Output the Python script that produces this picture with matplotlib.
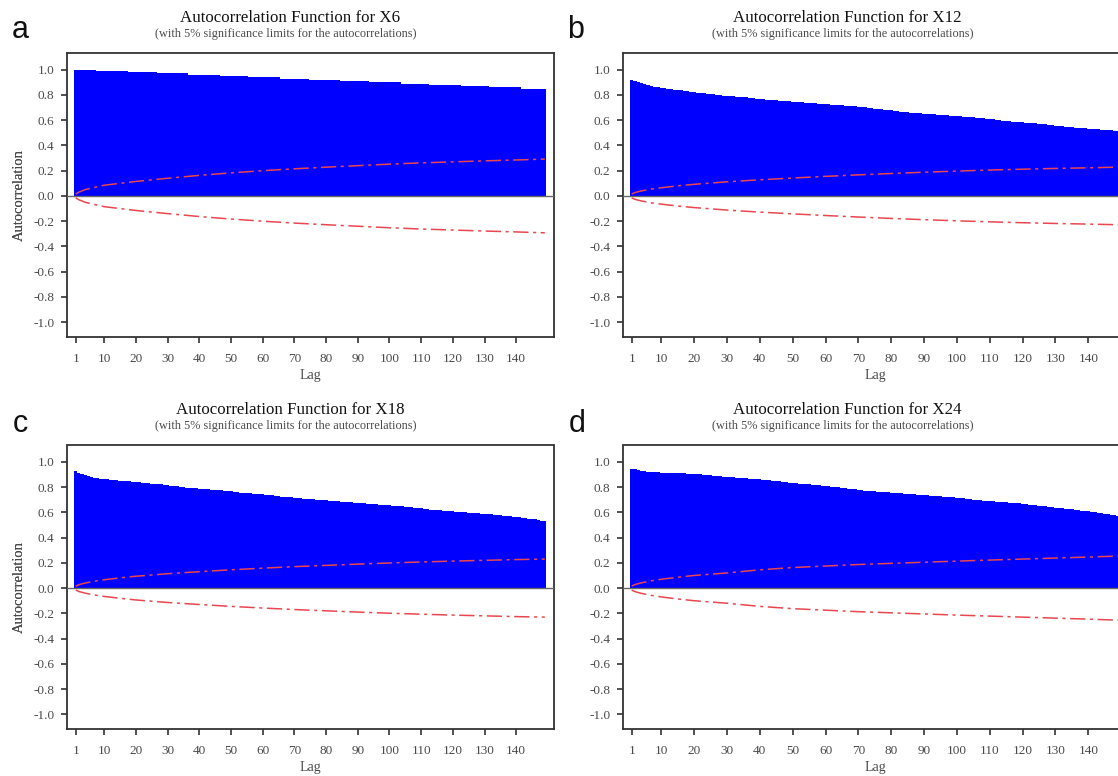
import matplotlib
matplotlib.use("Agg")
import matplotlib.pyplot as plt
import numpy as np

# ---------------- data ----------------
lags = list(range(1, 150))
tick_lags = [1, 10, 20, 30, 40, 50, 60, 70, 80, 90, 100, 110, 120, 130, 140]
ytick_vals = [-1.0, -0.8, -0.6, -0.4, -0.2, 0.0, 0.2, 0.4, 0.6, 0.8, 1.0]

acf_x6 = [
    1.00, 1.00, 1.00, 1.00, 1.00, 1.00, 1.00, 0.99, 0.99, 0.99,
    0.99, 0.99, 0.99, 0.99, 0.99, 0.99, 0.99, 0.98, 0.98, 0.98,
    0.98, 0.98, 0.98, 0.98, 0.98, 0.98, 0.97, 0.97, 0.97, 0.97,
    0.97, 0.97, 0.97, 0.97, 0.97, 0.97, 0.96, 0.96, 0.96, 0.96,
    0.96, 0.96, 0.96, 0.96, 0.96, 0.96, 0.95, 0.95, 0.95, 0.95,
    0.95, 0.95, 0.95, 0.95, 0.95, 0.94, 0.94, 0.94, 0.94, 0.94,
    0.94, 0.94, 0.94, 0.94, 0.94, 0.93, 0.93, 0.93, 0.93, 0.93,
    0.93, 0.93, 0.93, 0.93, 0.92, 0.92, 0.92, 0.92, 0.92, 0.92,
    0.92, 0.92, 0.92, 0.92, 0.91, 0.91, 0.91, 0.91, 0.91, 0.91,
    0.91, 0.91, 0.91, 0.90, 0.90, 0.90, 0.90, 0.90, 0.90, 0.90,
    0.90, 0.90, 0.90, 0.89, 0.89, 0.89, 0.89, 0.89, 0.89, 0.89,
    0.89, 0.89, 0.88, 0.88, 0.88, 0.88, 0.88, 0.88, 0.88, 0.88,
    0.88, 0.88, 0.87, 0.87, 0.87, 0.87, 0.87, 0.87, 0.87, 0.87,
    0.87, 0.86, 0.86, 0.86, 0.86, 0.86, 0.86, 0.86, 0.86, 0.86,
    0.86, 0.85, 0.85, 0.85, 0.85, 0.85, 0.85, 0.85, 0.85,
]

acf_x12 = [
    0.920, 0.910, 0.900, 0.893, 0.885, 0.878, 0.872, 0.866, 0.860, 0.855,
    0.852, 0.849, 0.846, 0.843, 0.840, 0.837, 0.834, 0.830, 0.826, 0.822,
    0.819, 0.816, 0.813, 0.810, 0.807, 0.804, 0.801, 0.798, 0.795, 0.792,
    0.790, 0.788, 0.786, 0.784, 0.782, 0.780, 0.777, 0.774, 0.771, 0.768,
    0.766, 0.764, 0.762, 0.760, 0.758, 0.756, 0.754, 0.752, 0.750, 0.748,
    0.746, 0.744, 0.742, 0.740, 0.738, 0.736, 0.734, 0.732, 0.730, 0.728,
    0.726, 0.724, 0.722, 0.720, 0.718, 0.716, 0.714, 0.712, 0.710, 0.707,
    0.704, 0.701, 0.698, 0.695, 0.692, 0.689, 0.686, 0.683, 0.680, 0.677,
    0.674, 0.671, 0.668, 0.665, 0.662, 0.660, 0.658, 0.656, 0.654, 0.652,
    0.650, 0.648, 0.646, 0.644, 0.642, 0.640, 0.638, 0.636, 0.634, 0.632,
    0.630, 0.628, 0.626, 0.624, 0.622, 0.620, 0.618, 0.615, 0.612, 0.609,
    0.606, 0.603, 0.600, 0.597, 0.594, 0.591, 0.589, 0.587, 0.585, 0.583,
    0.581, 0.579, 0.577, 0.575, 0.572, 0.569, 0.566, 0.563, 0.560, 0.557,
    0.554, 0.551, 0.548, 0.545, 0.543, 0.541, 0.539, 0.537, 0.535, 0.533,
    0.531, 0.529, 0.527, 0.525, 0.523, 0.521, 0.519, 0.517, 0.515,
]

acf_x18 = [
    0.930, 0.915, 0.903, 0.893, 0.885, 0.879, 0.874, 0.870, 0.867, 0.864,
    0.861, 0.858, 0.856, 0.854, 0.852, 0.850, 0.848, 0.846, 0.843, 0.840,
    0.837, 0.834, 0.831, 0.829, 0.827, 0.825, 0.823, 0.821, 0.818, 0.815,
    0.812, 0.809, 0.806, 0.803, 0.800, 0.797, 0.795, 0.793, 0.791, 0.789,
    0.787, 0.785, 0.783, 0.781, 0.779, 0.777, 0.775, 0.772, 0.769, 0.766,
    0.763, 0.760, 0.757, 0.754, 0.752, 0.750, 0.748, 0.746, 0.744, 0.742,
    0.740, 0.737, 0.734, 0.731, 0.728, 0.725, 0.722, 0.720, 0.718, 0.716,
    0.714, 0.712, 0.710, 0.708, 0.706, 0.704, 0.702, 0.700, 0.698, 0.696,
    0.694, 0.692, 0.690, 0.688, 0.686, 0.684, 0.682, 0.680, 0.678, 0.676,
    0.674, 0.672, 0.670, 0.668, 0.666, 0.664, 0.662, 0.660, 0.658, 0.656,
    0.654, 0.652, 0.650, 0.648, 0.646, 0.643, 0.640, 0.637, 0.634, 0.631,
    0.628, 0.625, 0.622, 0.620, 0.618, 0.616, 0.614, 0.612, 0.610, 0.608,
    0.606, 0.604, 0.602, 0.600, 0.598, 0.596, 0.594, 0.592, 0.590, 0.588,
    0.586, 0.584, 0.582, 0.580, 0.578, 0.575, 0.572, 0.569, 0.566, 0.563,
    0.560, 0.557, 0.554, 0.551, 0.548, 0.545, 0.542, 0.535, 0.528,
]

acf_x24 = [
    0.945, 0.940, 0.935, 0.930, 0.926, 0.922, 0.920, 0.918, 0.917, 0.916,
    0.915, 0.914, 0.913, 0.912, 0.911, 0.910, 0.909, 0.908, 0.907, 0.905,
    0.903, 0.901, 0.899, 0.897, 0.895, 0.892, 0.889, 0.886, 0.884, 0.882,
    0.880, 0.878, 0.876, 0.874, 0.872, 0.870, 0.868, 0.866, 0.864, 0.862,
    0.860, 0.857, 0.854, 0.851, 0.848, 0.845, 0.842, 0.839, 0.836, 0.833,
    0.830, 0.828, 0.826, 0.824, 0.822, 0.820, 0.818, 0.816, 0.813, 0.810,
    0.807, 0.804, 0.801, 0.798, 0.795, 0.792, 0.789, 0.786, 0.782, 0.778,
    0.775, 0.773, 0.771, 0.769, 0.767, 0.765, 0.763, 0.761, 0.759, 0.757,
    0.755, 0.753, 0.751, 0.749, 0.747, 0.745, 0.743, 0.741, 0.739, 0.737,
    0.735, 0.733, 0.731, 0.729, 0.727, 0.725, 0.723, 0.721, 0.719, 0.717,
    0.714, 0.711, 0.708, 0.705, 0.702, 0.699, 0.696, 0.693, 0.691, 0.689,
    0.687, 0.685, 0.683, 0.681, 0.679, 0.677, 0.675, 0.673, 0.671, 0.668,
    0.665, 0.662, 0.659, 0.656, 0.653, 0.650, 0.647, 0.644, 0.641, 0.638,
    0.635, 0.632, 0.629, 0.626, 0.623, 0.620, 0.617, 0.614, 0.611, 0.608,
    0.605, 0.601, 0.597, 0.593, 0.589, 0.585, 0.581, 0.578, 0.575,
]

# 5% significance limits (upper; lower is the mirror) read at these lags
limit_lags = [1, 2, 4, 7, 10, 15, 20, 30, 40, 50, 60, 70, 80, 90, 100, 110, 120, 130, 140, 149]
limit_x6 = [0.015, 0.030, 0.050, 0.068, 0.085, 0.100, 0.115, 0.140, 0.163, 0.183,
            0.200, 0.215, 0.228, 0.240, 0.252, 0.262, 0.270, 0.278, 0.285, 0.292]
limit_x12 = [0.015, 0.027, 0.040, 0.055, 0.065, 0.080, 0.092, 0.112, 0.128, 0.142,
             0.155, 0.167, 0.178, 0.188, 0.197, 0.205, 0.212, 0.218, 0.223, 0.228]
limit_x18 = [0.015, 0.027, 0.040, 0.055, 0.066, 0.081, 0.094, 0.114, 0.130, 0.145,
             0.158, 0.170, 0.180, 0.190, 0.199, 0.207, 0.214, 0.220, 0.226, 0.230]
limit_x24 = [0.016, 0.028, 0.042, 0.058, 0.070, 0.086, 0.100, 0.120, 0.145, 0.163,
             0.175, 0.187, 0.196, 0.205, 0.214, 0.222, 0.230, 0.238, 0.246, 0.254]

panels = [
    ("a", "X6", acf_x6, limit_x6),
    ("b", "X12", acf_x12, limit_x12),
    ("c", "X18", acf_x18, limit_x18),
    ("d", "X24", acf_x24, limit_x24),
]

# ---------------- layout ----------------
W, H = 1118, 776
fig = plt.figure(figsize=(W / 100, H / 100), dpi=100)
SERIF = ["Liberation Serif", "DejaVu Serif"]
SANS = ["Liberation Sans", "DejaVu Sans"]

def fx(px):
    return px / W

def fy(py):
    return 1 - py / H

# axes rectangles in pixel coords (left, top, right, bottom)
rects = [
    (67, 53.3, 554, 336.7),
    (622.7, 53.3, 1127.4, 336.7),
    (67, 445.5, 554, 728.8),
    (622.7, 445.5, 1127.4, 728.8),
]
title_x = [290, 847, 290, 847]
title_y = [18, 18, 410, 410]
letter_pos = [(20, 30), (576, 30), (20, 424), (577, 424)]

spine_col = "#333333"
text_col = "#4a4a4a"
bar_col = "#0000ff"
lim_col = "#e8474f"

for (letter, name, acf, lim), (l, t, r, b), tx, ty, (lx, ly) in zip(
        panels, rects, title_x, title_y, letter_pos):
    ax = fig.add_axes([fx(l), fy(b), fx(r) - fx(l), fy(t) - fy(b)])
    ax.bar(lags, acf, width=1.0, color=bar_col, linewidth=0, zorder=2)
    ax.axhline(0, color="#666666", lw=1.0, zorder=3)
    lim_arr = np.array(lim)
    for sgn in (1, -1):
        ax.plot(limit_lags, sgn * lim_arr, color=lim_col, lw=1.1,
                dashes=(10, 3, 2, 3), zorder=4)
    ax.set_xlim(-1.74, 151.9)
    ax.set_ylim(-1.115, 1.13)
    ax.set_xticks(tick_lags)
    ax.set_xticklabels([str(v) for v in tick_lags], family=SERIF,
                       fontsize=9.5, color=text_col)
    ax.set_yticks(ytick_vals)
    ax.set_yticklabels(["%.1f" % v if abs(v) > 1e-9 else "0.0" for v in ytick_vals],
                       family=SERIF, fontsize=9.5, color=text_col)
    ax.tick_params(direction="out", length=4, width=1.2, color=spine_col)
    ax.tick_params(axis="x", pad=8)
    ax.tick_params(axis="y", pad=5)
    for s in ax.spines.values():
        s.set_color(spine_col)
        s.set_linewidth(1.3)
    ax.set_ylabel("Autocorrelation", family=SERIF, fontsize=10.5, color=text_col)
    ax.yaxis.set_label_coords(-(l - 19) / (r - l), 0.5)
    ax.yaxis.label.set_va("center")
    ax.set_xlabel("Lag", family=SERIF, fontsize=10, color=text_col)
    ax.xaxis.set_label_coords(0.5, -39 / (b - t))
    ax.xaxis.label.set_va("center")

    fig.text(fx(tx), fy(ty), "Autocorrelation Function for %s" % name,
             family=SERIF, fontsize=12.2, color="#111111",
             ha="center", va="center")
    fig.text(fx(tx - 4), fy(ty + 16),
             "(with 5% significance limits for the autocorrelations)",
             family=SERIF, fontsize=8.8, color=text_col,
             ha="center", va="center")
    fig.text(fx(lx), fy(ly), letter, family=SANS, fontsize=22,
             color="#111111", ha="center", va="center")

fig.savefig("out.png", dpi=100)
